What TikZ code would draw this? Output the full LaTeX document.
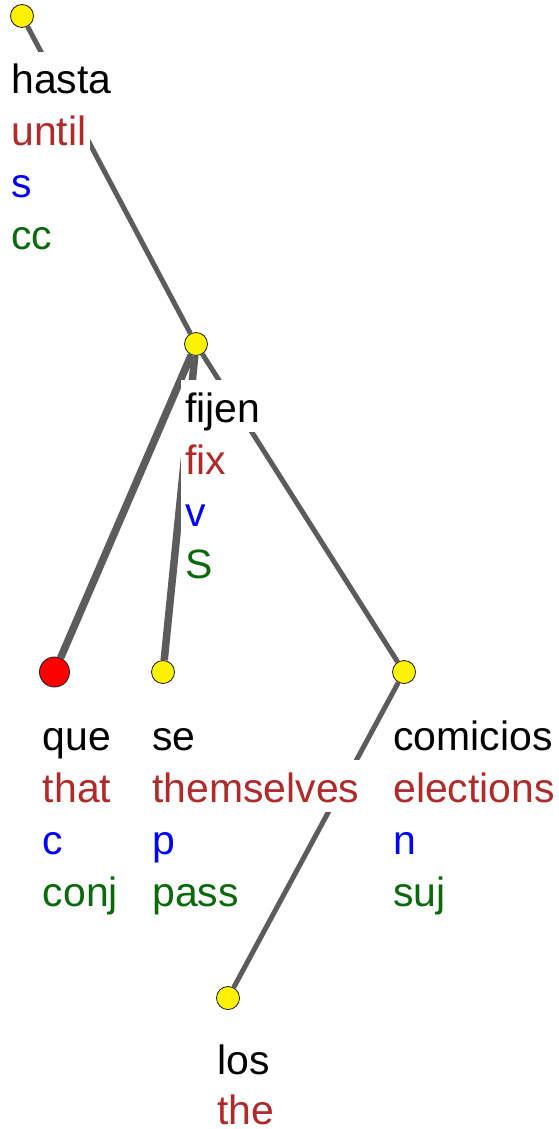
\documentclass[tikz,border=0pt]{standalone}
\usepackage{fontspec}
\setmainfont{Liberation Sans}
\usetikzlibrary{positioning}
\definecolor{linkgray}{RGB}{92,92,92}
\definecolor{glossred}{RGB}{176,42,42}
\definecolor{tagblue}{RGB}{0,0,255}
\definecolor{relgreen}{RGB}{10,105,10}

\begin{document}
\begin{tikzpicture}[
    tokdot/.style={circle, draw=black!85, fill=yellow, minimum size=0.46cm, inner sep=0pt, line width=0.5pt},
    markdot/.style={tokdot, fill=red, minimum size=0.6cm},
    link/.style={draw=linkgray, line width=0.1cm},
    boldlink/.style={link, line width=0.15cm},
    txt/.style={anchor=base west, fill=white, inner xsep=0.08cm, inner ysep=0pt,
        text height=0.84cm, text depth=0.2cm, font=\fontsize{23.3}{28}\selectfont},
    wordtxt/.style={txt, text=black},
    glosstxt/.style={txt, text=glossred},
    tagtxt/.style={txt, text=tagblue},
    reltxt/.style={txt, text=relgreen}
]
    \useasboundingbox (0,0) rectangle (11.18,-22.58);

    % Dots
    \node[tokdot] (hasta) at (0.44,-0.32) {};
    \node[tokdot] (fijen) at (3.92,-6.88) {};
    \node[markdot] (que) at (1.09,-13.44) {};
    \node[tokdot] (se) at (3.26,-13.44) {};
    \node[tokdot] (comicios) at (8.08,-13.44) {};
    \node[tokdot] (los) at (4.56,-19.96) {};

    % Dependencies
    \draw[link] (hasta) -- (fijen);
    \draw[boldlink] (fijen) -- (que);
    \draw[boldlink] (fijen) -- (se);
    \draw[link] (fijen) -- (comicios);
    \draw[link] (comicios) -- (los);

    % hasta
    \node[below=1.56cm of hasta.center, xshift=-0.3cm, wordtxt] (hasta-w) {hasta};
    \node[below=1.04cm of hasta-w.base west, glosstxt] (hasta-g) {until};
    \node[below=1.04cm of hasta-g.base west, tagtxt] (hasta-t) {s};
    \node[below=1.04cm of hasta-t.base west, reltxt] (hasta-r) {cc};

    % fijen
    \node[below=1.56cm of fijen.center, xshift=-0.3cm, wordtxt] (fijen-w) {fijen};
    \node[below=1.04cm of fijen-w.base west, glosstxt] (fijen-g) {fix};
    \node[below=1.04cm of fijen-g.base west, tagtxt] (fijen-t) {v};
    \node[below=1.04cm of fijen-t.base west, reltxt] (fijen-r) {S};

    % que
    \node[below=1.56cm of que.center, xshift=-0.32cm, wordtxt] (que-w) {que};
    \node[below=1.04cm of que-w.base west, glosstxt] (que-g) {that};
    \node[below=1.04cm of que-g.base west, tagtxt] (que-t) {c};
    \node[below=1.04cm of que-t.base west, reltxt] (que-r) {conj};

    % se
    \node[below=1.56cm of se.center, xshift=-0.3cm, wordtxt] (se-w) {se};
    \node[below=1.04cm of se-w.base west, glosstxt] (se-g) {themselves};
    \node[below=1.04cm of se-g.base west, tagtxt] (se-t) {p};
    \node[below=1.04cm of se-t.base west, reltxt] (se-r) {pass};

    % comicios
    \node[below=1.56cm of comicios.center, xshift=-0.3cm, wordtxt] (comicios-w) {comicios};
    \node[below=1.04cm of comicios-w.base west, glosstxt] (comicios-g) {elections};
    \node[below=1.04cm of comicios-g.base west, tagtxt] (comicios-t) {n};
    \node[below=1.04cm of comicios-t.base west, reltxt] (comicios-r) {suj};

    % los
    \node[below=1.52cm of los.center, xshift=-0.3cm, wordtxt] (los-w) {los};
    \node[below=1.0cm of los-w.base west, glosstxt, text depth=0pt] (los-g) {the};
\end{tikzpicture}
\end{document}
